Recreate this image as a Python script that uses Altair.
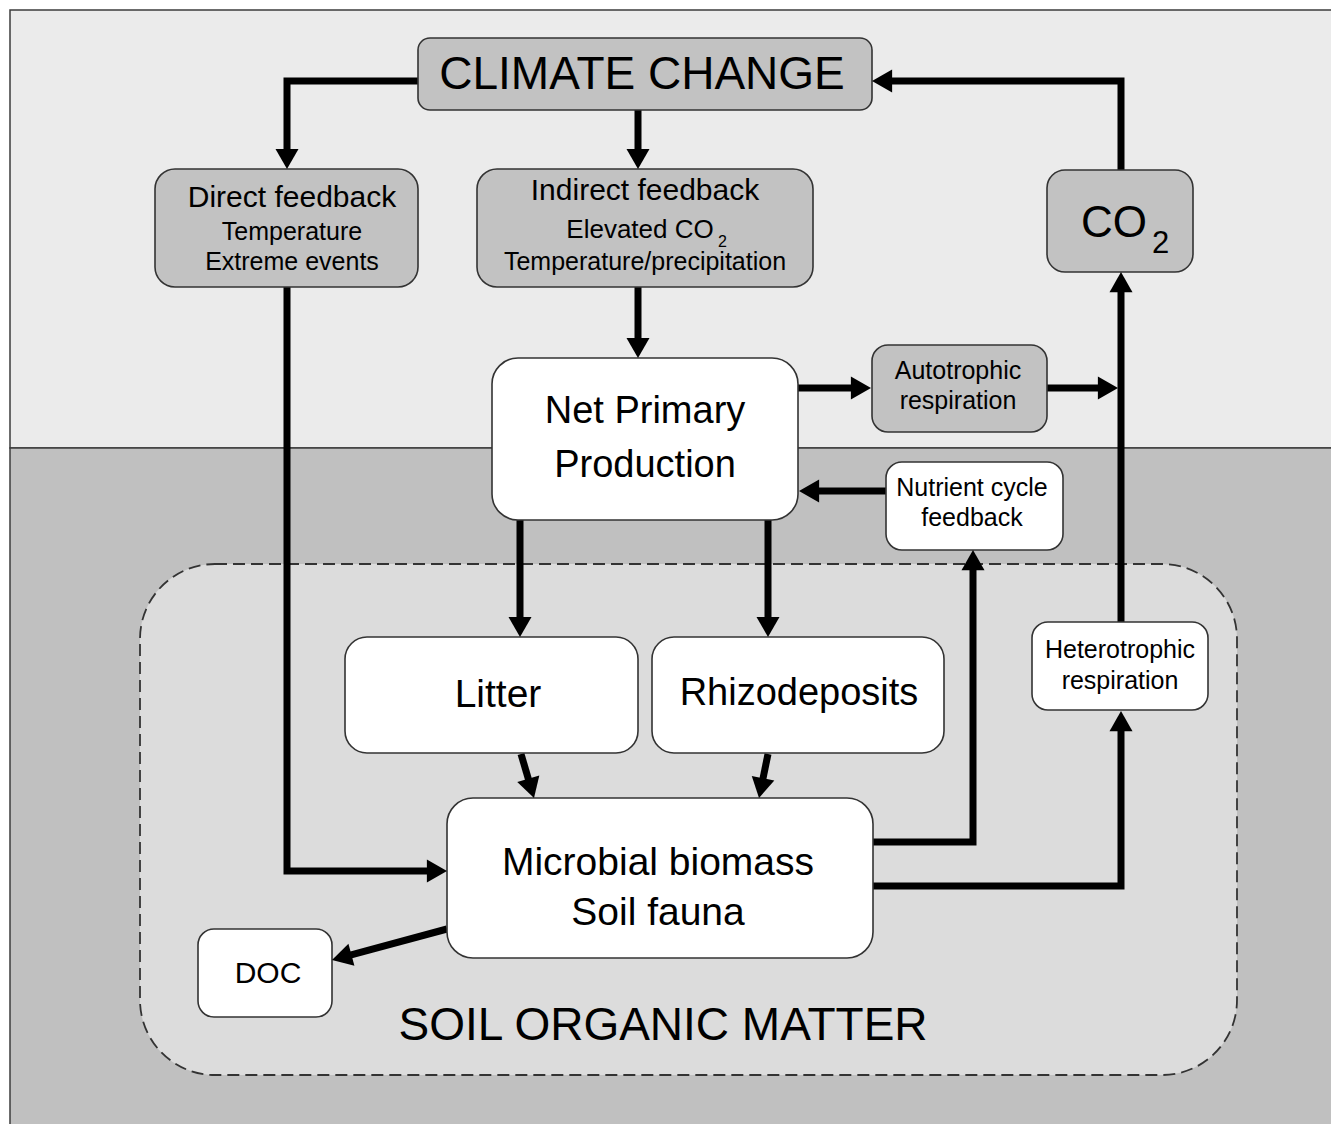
import math
import altair as alt
import pandas as pd

FONT = "Liberation Sans"

# ---- zones (background bands and soil organic matter area) ----
zone_name = ["atmosphere", "soil", "som"]
zone_x0 = [10, 10, 140]
zone_x1 = [1337, 1337, 1237]
zone_y0 = [10, 448, 564]
zone_y1 = [448, 1131, 1075]
zone_fill = ["#ebebeb", "#c0c0c0", "#dcdcdc"]

# ---- boxes ----
box_name = ["cc", "direct", "indirect", "co2", "npp", "auto", "nutr",
            "litter", "rhizo", "hetero", "micro", "doc"]
box_x0 = [418, 155, 477, 1047, 492, 872, 886, 345, 652, 1032, 447, 198]
box_x1 = [872, 418, 813, 1193, 798, 1047, 1063, 638, 944, 1208, 873, 332]
box_y0 = [38, 169, 169, 170, 358, 345, 462, 637, 637, 622, 798, 929]
box_y1 = [110, 287, 287, 272, 520, 432, 550, 753, 753, 710, 958, 1017]
box_fill = ["#c2c2c2", "#c2c2c2", "#c2c2c2", "#c2c2c2", "#ffffff", "#c2c2c2",
            "#ffffff", "#ffffff", "#ffffff", "#ffffff", "#ffffff", "#ffffff"]
box_radius = [12, 20, 20, 18, 26, 16, 16, 22, 22, 16, 26, 16]

# ---- labels (centred) ----
label_text = ["CLIMATE CHANGE", "Direct feedback", "Temperature", "Extreme events",
              "Indirect feedback", "Elevated CO", "Temperature/precipitation",
              "CO", "Net Primary", "Production", "Autotrophic", "respiration",
              "Nutrient cycle", "feedback", "Litter", "Rhizodeposits",
              "Heterotrophic", "respiration", "Microbial biomass", "Soil fauna",
              "DOC", "SOIL ORGANIC MATTER"]
label_x = [642, 292, 292, 292, 645, 640, 645, 1114, 645, 645, 958, 958,
           972, 972, 498, 799, 1120, 1120, 658, 658, 268, 663]
label_y = [89, 207, 240, 270, 200, 238, 270, 237, 423, 477, 379, 409,
           496, 526, 707, 705, 658, 689, 875, 925, 983, 1040]
label_size = [46, 30, 25, 25, 30, 26, 25, 44, 38, 38, 25, 25,
              25, 25, 39, 38, 25, 25, 39, 39, 30, 46]

# ---- subscripts (left aligned) ----
sub_text = ["2", "2"]
sub_x = [718, 1152]
sub_y = [247, 253]
sub_size = [16, 31]

# ---- connectors (polylines, arrow tip at the last point) ----
edges = [
    [(418, 81), (287, 81), (287, 169)],
    [(638, 110), (638, 169)],
    [(1121, 170), (1121, 81), (872, 81)],
    [(638, 287), (638, 358)],
    [(287, 287), (287, 871), (447, 871)],
    [(798, 388), (871, 388)],
    [(1047, 388), (1118, 388)],
    [(1121, 622), (1121, 272)],
    [(886, 491), (799, 491)],
    [(520, 520), (520, 637)],
    [(768, 520), (768, 637)],
    [(521, 754), (534, 798)],
    [(768, 754), (759, 798)],
    [(873, 842), (973, 842), (973, 550)],
    [(873, 886), (1121, 886), (1121, 711)],
    [(447, 929), (332, 960)],
]

HEAD_LEN = 20.0
line_rows, head_rows = [], []
for pid, pts in enumerate(edges):
    (xa, ya), (xb, yb) = pts[-2], pts[-1]
    d = math.hypot(xb - xa, yb - ya)
    ux, uy = (xb - xa) / d, (yb - ya) / d
    ang = math.degrees(math.atan2(ux, -uy)) % 360
    head_rows.append({"x": xb, "y": yb, "ang": ang})
    path = list(pts[:-1]) + [(xb - ux * (HEAD_LEN - 3), yb - uy * (HEAD_LEN - 3))]
    for k, (px, py) in enumerate(path):
        line_rows.append({"pid": pid, "k": k, "x": px, "y": py})

xs = alt.Scale(domain=[8, 1331], nice=False, zero=False)
ys = alt.Scale(domain=[8, 1124], nice=False, zero=False, reverse=True)


def rect_enc():
    return dict(
        x=alt.X("x0:Q", scale=xs, axis=None),
        x2="x1:Q",
        y=alt.Y("y0:Q", scale=ys, axis=None),
        y2="y1:Q",
    )


layers = []
# background bands
for i in range(2):
    df = pd.DataFrame([{"x0": zone_x0[i], "x1": zone_x1[i], "y0": zone_y0[i], "y1": zone_y1[i]}])
    layers.append(alt.Chart(df).mark_rect(fill=zone_fill[i], stroke="#3c3c3c",
                                          strokeWidth=1.5).encode(**rect_enc()))
# soil organic matter dashed area
df = pd.DataFrame([{"x0": zone_x0[2], "x1": zone_x1[2], "y0": zone_y0[2], "y1": zone_y1[2]}])
layers.append(alt.Chart(df).mark_rect(fill=zone_fill[2], stroke="#333333", strokeWidth=1.8,
                                      strokeDash=[12, 6], cornerRadius=75).encode(**rect_enc()))

# connector lines
layers.append(
    alt.Chart(pd.DataFrame(line_rows)).mark_line(
        color="black", strokeWidth=7, strokeJoin="miter", strokeCap="butt"
    ).encode(
        x=alt.X("x:Q", scale=xs, axis=None),
        y=alt.Y("y:Q", scale=ys, axis=None),
        detail="pid:N",
        order="k:Q",
    )
)

# boxes
for i in range(len(box_name)):
    df = pd.DataFrame([{"x0": box_x0[i], "x1": box_x1[i], "y0": box_y0[i], "y1": box_y1[i]}])
    layers.append(alt.Chart(df).mark_rect(fill=box_fill[i], stroke="#333333", strokeWidth=1.6,
                                          cornerRadius=box_radius[i]).encode(**rect_enc()))

# arrow heads (tip at the symbol origin, pointing up before rotation)
layers.append(
    alt.Chart(pd.DataFrame(head_rows)).mark_point(
        shape="M0,0L1,1.75L-1,1.75Z", filled=True, fill="black", stroke=None,
        size=529, opacity=1
    ).encode(
        x=alt.X("x:Q", scale=xs, axis=None),
        y=alt.Y("y:Q", scale=ys, axis=None),
        angle=alt.Angle("ang:Q", scale=None),
    )
)

# labels
lab = pd.DataFrame({"t": label_text, "x": label_x, "y": label_y, "fs": label_size})
layers.append(
    alt.Chart(lab).mark_text(font=FONT, align="center", baseline="alphabetic", color="black").encode(
        x=alt.X("x:Q", scale=xs, axis=None),
        y=alt.Y("y:Q", scale=ys, axis=None),
        text="t:N",
        size=alt.Size("fs:Q", scale=None, legend=None),
    )
)
sub = pd.DataFrame({"t": sub_text, "x": sub_x, "y": sub_y, "fs": sub_size})
layers.append(
    alt.Chart(sub).mark_text(font=FONT, align="left", baseline="alphabetic", color="black").encode(
        x=alt.X("x:Q", scale=xs, axis=None),
        y=alt.Y("y:Q", scale=ys, axis=None),
        text="t:N",
        size=alt.Size("fs:Q", scale=None, legend=None),
    )
)

chart = alt.layer(*layers).properties(
    width=1323, height=1116, autosize="none", padding=0, background="white"
).configure_view(stroke=None)

chart.save("out.html", embed_options={"renderer": "svg", "actions": False})
